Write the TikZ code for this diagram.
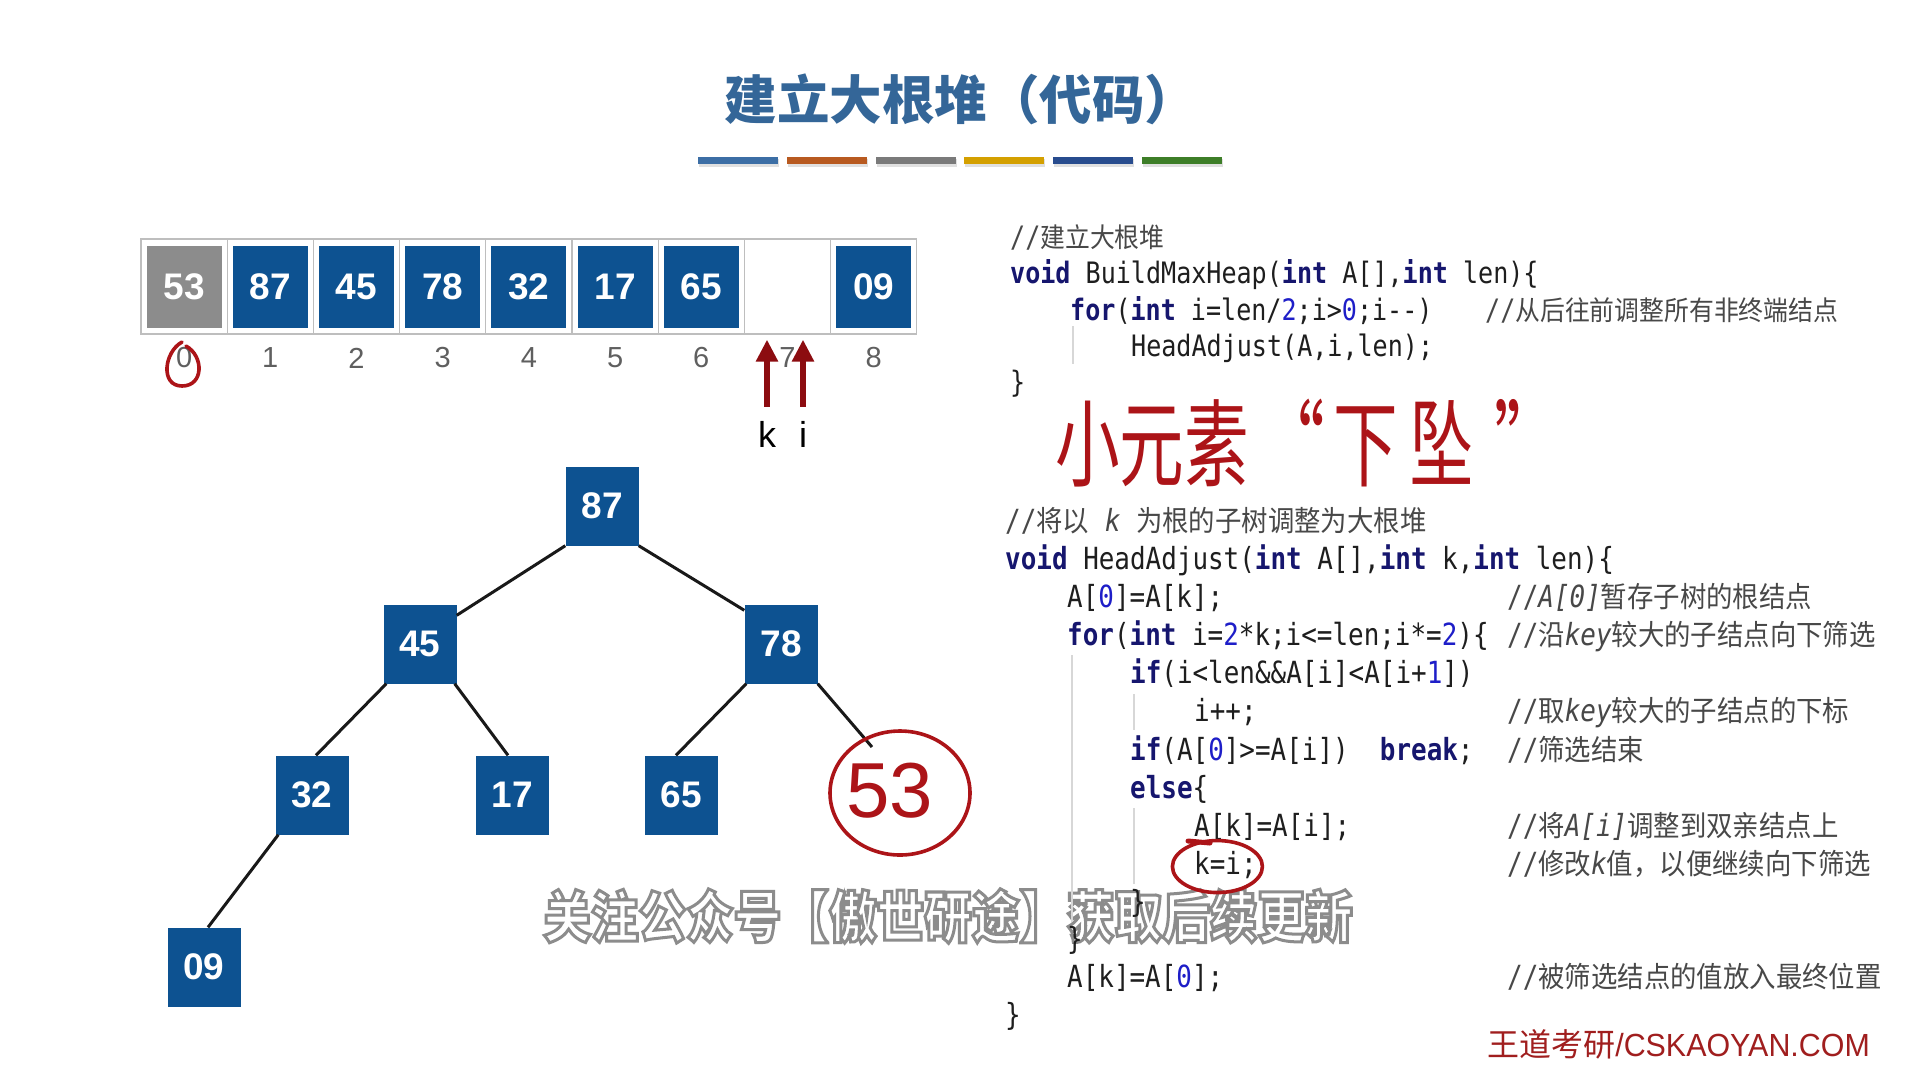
\documentclass[tikz,border=0pt]{standalone}
\usepackage{fontspec}
\setmainfont{Liberation Sans}
\newfontfamily\cjk{Noto Sans CJK SC}
\newfontfamily\cjknarrow{Noto Sans CJK SC}[FakeStretch=0.92]
\newfontfamily\cjkhand{Noto Sans CJK SC}[FakeStretch=0.68]
\newfontfamily\cjkwm{Noto Sans CJK SC}[FakeStretch=0.85]
\newfontfamily\codefont{DejaVu Sans Mono}[FakeStretch=0.85]
\newfontfamily\logofont{Liberation Sans}[FakeStretch=0.95]
\usetikzlibrary{arrows.meta}

\definecolor{titleblue}{RGB}{52,102,152}
\definecolor{boxblue}{RGB}{13,82,145}
\definecolor{boxgray}{RGB}{140,140,140}
\definecolor{framegray}{RGB}{190,190,190}
\definecolor{idxgray}{RGB}{95,95,95}
\definecolor{arrowred}{RGB}{140,12,16}
\definecolor{handred}{RGB}{172,20,24}
\definecolor{logored}{RGB}{160,30,30}
\definecolor{kwblue}{RGB}{22,22,110}
\definecolor{numblue}{RGB}{30,30,200}
\definecolor{codeink}{RGB}{30,30,30}
\definecolor{cmtgray}{RGB}{72,72,72}
\definecolor{guidegray}{RGB}{215,215,215}
\definecolor{barA}{RGB}{60,110,165}
\definecolor{barB}{RGB}{184,90,32}
\definecolor{barC}{RGB}{122,122,122}
\definecolor{barD}{RGB}{212,160,0}
\definecolor{barE}{RGB}{40,76,142}
\definecolor{barF}{RGB}{61,126,40}

% code highlighting helpers
\newcommand\kwd[1]{{\bfseries\color{kwblue}#1}}
\newcommand\nmb[1]{{\color{numblue}#1}}
\newcommand\zhA[1]{{\cjknarrow\fontsize{27}{30}\selectfont #1}}
\newcommand\zhB[1]{{\cjknarrow\fontsize{28.7}{32}\selectfont #1}}
\newcommand\itl[1]{{\itshape #1}}
% filled text with a stroked outline
\newcommand\outlined[1]{\special{pdf:literal direct 2 Tr 3 w 0.55 G}#1\special{pdf:literal direct 0 Tr 1 w}}

\tikzset{
  cellbox/.style={draw=framegray, line width=1.2pt, minimum width=86.2pt, minimum height=95pt, inner sep=0pt},
  valbox/.style={fill=boxblue, minimum width=75pt, minimum height=82pt, inner sep=0pt, text=white,
    font=\bfseries\fontsize{37}{40}\selectfont},
  idx/.style={text=idxgray, inner sep=0pt, font=\fontsize{29}{32}\selectfont},
  treebox/.style={fill=boxblue, minimum width=73pt, minimum height=79pt, inner sep=0pt, text=white,
    font=\bfseries\fontsize{37}{40}\selectfont},
  edge/.style={line width=3pt, draw=black!90},
  ptr/.style={line width=6pt, draw=arrowred, -{Triangle[width=21pt,length=22pt]}},
  ptrlab/.style={text=black, inner sep=0pt, font=\fontsize{36}{40}\selectfont},
  codeA/.style={anchor=base west, inner sep=0pt, text=codeink, font=\codefont\fontsize{29.5}{34}\selectfont},
  codeB/.style={anchor=base west, inner sep=0pt, text=codeink, font=\codefont\fontsize{30.5}{35}\selectfont},
  cmtA/.style={codeA, text=cmtgray},
  cmtB/.style={codeB, text=cmtgray},
  guide/.style={draw=guidegray, line width=1.2pt},
  handline/.style={draw=handred, line width=3.6pt, line cap=round, line join=round},
  handtext/.style={text=handred, inner sep=0pt, font=\cjkhand\fontsize{95}{100}\selectfont},
}

\begin{document}
\begin{tikzpicture}[x=1pt, y=-1pt]
\useasboundingbox (0,0) rectangle (1920,1080);
\fill[white] (0,0) rectangle (1920,1080);

% ---------- title and colour bars ----------
\node[text=titleblue, font=\cjk\bfseries\fontsize{52.5}{58}\selectfont] (title) at (961,99) {建立大根堆（代码）};
\foreach \k/\c in {0/barA,1/barB,2/barC,3/barD,4/barE,5/barF}{
  \fill[black!12] ({699+88.8*\k},159) rectangle ++(80,8);
  \fill[\c] ({698+88.8*\k},157) rectangle ++(80,7);
}

% ---------- array ----------
\foreach \i in {0,...,8}
  \node[cellbox] (c\i) at ({141+86.2*(\i+0.5)},286.5) {};
\node[valbox, fill=boxgray] (v0) at (c0) {53};
\foreach \i/\v in {1/87,2/45,3/78,4/32,5/17,6/65,8/09}
  \node[valbox] (v\i) at (c\i) {\v};
\foreach \i in {0,...,8}
  \node[idx] (x\i) at ([yshift=-71.5pt]c\i.center) {\i};

% pointers k and i
\node[ptrlab] (klab) at (767,434) {k};
\node[ptrlab] (ilab) at (803,434) {i};
\draw[ptr] ([yshift=14pt]klab.north) -- ([yshift=-5pt]c7.south -| klab);
\draw[ptr] ([yshift=14pt]ilab.north) -- ([yshift=-5pt]c7.south -| ilab);

% ---------- heap tree ----------
\node[treebox] (n87) at (602,506) {87};
\node[treebox] (n45) at (420,644) {45};
\node[treebox] (n78) at (781,644) {78};
\node[treebox] (n32) at (312,795) {32};
\node[treebox] (n17) at (512,795) {17};
\node[treebox] (n65) at (681,795) {65};
\node[treebox] (n09) at (204,967) {09};
\coordinate (tip53) at (872,747);

\draw[edge] (n87.south west) -- ([yshift=-11pt]n45.north east);
\draw[edge] (n87.south east) -- ([yshift=-6pt]n78.north west);
\draw[edge] ([xshift=3pt]n45.south west) -- ([xshift=4pt]n32.north);
\draw[edge] ([xshift=-2pt]n45.south east) -- ([xshift=-4pt]n17.north);
\draw[edge] ([xshift=2pt]n78.south west) -- ([xshift=-5pt]n65.north);
\draw[edge] (n78.south east) -- (tip53);
\draw[edge] ([xshift=3pt]n32.south west) -- ([xshift=4pt]n09.north);

% ---------- subtitle banner ----------
\node[text=white, inner sep=0pt, font=\cjkwm\bfseries\fontsize{56}{60}\selectfont] (wm) at (948,916)
  {\outlined{关注公众号【傲世研途】获取后续更新}};

% ---------- code: BuildMaxHeap ----------
\node[cmtA] (a0) at (1010,247) {//\zhA{建立大根堆}};
\node[codeA] (a1) at (1010,283) {\kwd{void} BuildMaxHeap(\kwd{int} A[],\kwd{int} len)\{};
\node[codeA] (a2) at (1070,320) {\kwd{for}(\kwd{int} i=len/\nmb{2};i>\nmb{0};i-\kern0pt-)};
\node[cmtA] (a2c) at (1485,320) {//\zhA{从后往前调整所有非终端结点}};
\node[codeA] (a3) at (1131,356) {HeadAdjust(A,i,len);};
\node[codeA] (a4) at (1010,392) {\}};
\draw[guide] (1073,326) -- (1073,364);

% ---------- code: HeadAdjust ----------
\node[cmtB] (b0) at (1005,531) {//\zhB{将以} \itl{k} \zhB{为根的子树调整为大根堆}};
\node[codeB] (b1) at (1005,569) {\kwd{void} HeadAdjust(\kwd{int} A[],\kwd{int} k,\kwd{int} len)\{};
\node[codeB] (b2) at (1067,607) {A[\nmb{0}]=A[k];};
\node[cmtB] (b2c) at (1507,607) {//\itl{A[0]}\zhB{暂存子树的根结点}};
\node[codeB] (b3) at (1067,645) {\kwd{for}(\kwd{int} i=\nmb{2}*k;i<=len;i*=\nmb{2})\{};
\node[cmtB] (b3c) at (1507,645) {//\zhB{沿}\itl{key}\zhB{较大的子结点向下筛选}};
\node[codeB] (b4) at (1130,683) {\kwd{if}(i<len\&\&A[i]<A[i+\nmb{1}])};
\node[codeB] (b5) at (1194,721) {i++;};
\node[cmtB] (b5c) at (1507,721) {//\zhB{取}\itl{key}\zhB{较大的子结点的下标}};
\node[codeB] (b6) at (1130,760) {\kwd{if}(A[\nmb{0}]>=A[i])~~\kwd{break};};
\node[cmtB] (b6c) at (1507,760) {//\zhB{筛选结束}};
\node[codeB] (b7) at (1130,798) {\kwd{else}\{};
\node[codeB] (b8) at (1194,836) {A[k]=A[i];};
\node[cmtB] (b8c) at (1507,836) {//\zhB{将}\itl{A[i]}\zhB{调整到双亲结点上}};
\node[codeB] (b9) at (1194,874) {k=i;};
\node[cmtB] (b9c) at (1507,874) {//\zhB{修改}\itl{k}\zhB{值，以便继续向下筛选}};
\node[codeB] (b10) at (1130,912) {\}};
\node[codeB] (b11) at (1067,949) {\}};
\node[codeB] (b12) at (1067,987) {A[k]=A[\nmb{0}];};
\node[cmtB] (b12c) at (1507,987) {//\zhB{被筛选结点的值放入最终位置}};
\node[codeB] (b13) at (1005,1025) {\}};
\draw[guide] (1072,655) -- (1072,922);
\draw[guide] (1134,694) -- (1134,730);
\draw[guide] (1134,808) -- (1134,884);

% ---------- hand-written notes ----------
\node[handtext] (note1) at (1152,443) {小元素};
\node[handtext] (note2) at (1410,443) {“\hspace{8pt}下\hspace{12pt}坠\hspace{20pt}”};
\node[text=handred, inner sep=0pt, font=\fontsize{78}{82}\selectfont] (h53) at (890,791) {53};
\draw[handline] ([xshift=10pt,yshift=-2pt]h53.center) ellipse [x radius=70pt, y radius=62pt];
\draw[handline] (182,342) .. controls (164,352) and (160,386) .. (182,386)
                          .. controls (204,386) and (204,356) .. (186,346);
\draw[handline] ([xshift=-8pt,yshift=-2pt]b9.center) ellipse [x radius=45pt, y radius=26pt];
\draw[handline, line width=5pt] (1188,841) -- (1210,843);

% ---------- logo ----------
\node[anchor=east, inner sep=0pt, text=logored, font=\logofont\fontsize{32}{36}\selectfont] (logo) at (1870,1044)
  {{\cjk 王道考研}/CSKAOYAN.COM};
\end{tikzpicture}
\end{document}
